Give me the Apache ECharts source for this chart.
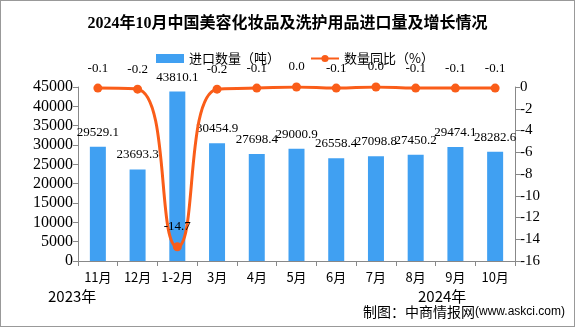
<!DOCTYPE html>
<html><head><meta charset="utf-8">
<script src="https://cdn.jsdelivr.net/npm/echarts@6/dist/echarts.min.js"></script>
<style>html,body{margin:0;padding:0;background:#fff}#c{width:575px;height:327px;box-sizing:border-box;border:1px solid #999}</style>
</head><body><div id="c"></div>
<script>
const categories = ['11月','12月','1-2月','3月','4月','5月','6月','7月','8月','9月','10月'];
const importQty = [29529.1, 23693.3, 43810.1, 30454.9, 27698.4, 29000.9, 26558.4, 27098.8, 27450.2, 29474.1, 28282.6];
const yoy = [-0.1, -0.2, -14.7, -0.2, -0.1, 0.0, -0.1, 0.0, -0.1, -0.1, -0.1];
const leftTicks = {min: 0, max: 45000, interval: 5000};
const rightTicks = {min: -16, max: 0, interval: 2};

const numFont = '"Liberation Serif", "Noto Sans CJK SC", serif';
const cjkFont = '"Noto Sans CJK SC", sans-serif';
const chart = echarts.init(document.getElementById('c'));
chart.setOption({
  animation: false,
  title: {
    text: '2024年10月中国美容化妆品及洗护用品进口量及增长情况',
    left: 'center', top: 10,
    textStyle: {fontSize: 16, fontWeight: 'bold', color: '#000', fontFamily: '"Liberation Serif", "Noto Sans CJK SC", serif'}
  },
  legend: {
    top: 46, left: 150, itemGap: 30, itemWidth: 28, itemHeight: 9,
    textStyle: {fontSize: 13, color: '#000', fontFamily: cjkFont},
    data: [{name: '进口数量（吨）', icon: 'rect'}, {name: '数量同比（%）'}]
  },
  grid: {left: 77, right: 59, top: 86, bottom: 65},
  xAxis: {
    type: 'category', data: categories,
    axisLine: {lineStyle: {color: '#888'}},
    axisTick: {show: true, alignWithLabel: false, length: 5, lineStyle: {color: '#888'}},
    axisLabel: {color: '#000', fontSize: 13, fontFamily: cjkFont, margin: 10, interval: 0}
  },
  yAxis: [
    {type: 'value', min: leftTicks.min, max: leftTicks.max, interval: leftTicks.interval,
     splitLine: {show: false},
     axisLine: {show: true, lineStyle: {color: '#888'}},
     axisTick: {show: true, length: 5, lineStyle: {color: '#888'}},
     axisLabel: {color: '#000', fontSize: 16, fontFamily: numFont, margin: 5, formatter: v => String(v)}},
    {type: 'value', min: rightTicks.min, max: rightTicks.max, interval: rightTicks.interval,
     position: 'right', splitLine: {show: false},
     axisLine: {show: true, lineStyle: {color: '#888'}},
     axisTick: {show: true, length: 5, lineStyle: {color: '#888'}},
     axisLabel: {color: '#000', fontSize: 15, fontFamily: numFont, margin: 5, formatter: v => String(v)}}
  ],
  series: [
    {name: '进口数量（吨）', type: 'bar', data: importQty, barWidth: 16, yAxisIndex: 0,
     itemStyle: {color: '#40a0f2'},
     label: {show: true, position: 'top', distance: 8, color: '#000', fontSize: 13, fontFamily: numFont,
             formatter: p => p.value.toFixed(1)}},
    {name: '数量同比（%）', type: 'line', data: yoy, yAxisIndex: 1, smooth: true,
     symbol: 'circle', symbolSize: 9,
     lineStyle: {color: '#fa5d19', width: 3}, itemStyle: {color: '#fa5d19'},
     label: {show: true, position: 'top', distance: 9, color: '#000', fontSize: 13, fontFamily: numFont,
             formatter: p => p.value.toFixed(1)}}
  ],
  graphic: [
    {type: 'text', left: 47, top: 288, style: {text: '2023年', fill: '#000', font: '15px ' + cjkFont}},
    {type: 'text', left: 417, top: 288, style: {text: '2024年', fill: '#000', font: '15px ' + cjkFont}},
    {type: 'text', right: 9, top: 304, style: {
      text: '{a|制图：中商情报网}{b|(www.askci.com)}', fill: '#000',
      rich: {a: {font: '14px ' + cjkFont, fill: '#000'}, b: {font: '12px "Liberation Sans", sans-serif', fill: '#000'}}
    }}
  ]
});
</script></body></html>
